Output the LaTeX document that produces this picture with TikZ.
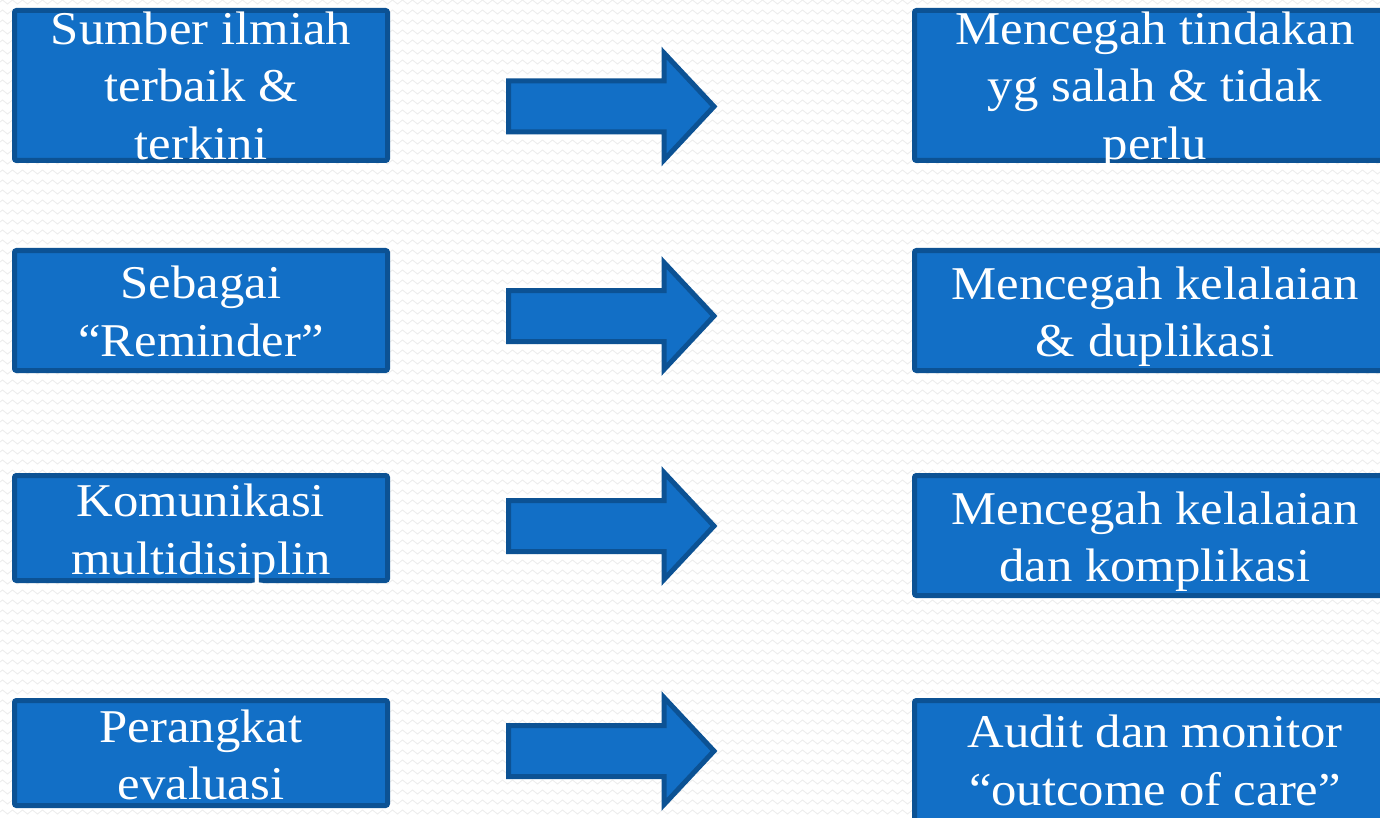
\documentclass[tikz,border=0pt]{standalone}
\usepackage{fontspec}
\setmainfont{Liberation Serif}[FakeStretch=1.08]
\usetikzlibrary{decorations.pathmorphing}
\definecolor{boxfill}{RGB}{18,111,198}
\definecolor{boxline}{RGB}{12,82,148}
\definecolor{bgline}{RGB}{238,238,238}
\tikzset{
  box/.style={draw=boxline, fill=boxfill, line width=5pt, rounded corners=2pt, inner sep=0pt},
  txt/.style={text=white, inner sep=0pt, anchor=base, font=\fontsize{47}{57.5}\selectfont},
  arrowstyle/.style={draw=boxline, fill=boxfill, line width=5pt, line join=miter},
  bgzz/.style={draw=bgline, line width=0.9pt, decorate, decoration={zigzag, segment length=10pt, amplitude=2pt}},
  blockarrow/.pic={
    \path[arrowstyle] (-103.5,-25.5) -- (52,-25.5) -- (52,-53.5) -- (102,0) -- (52,53.5) -- (52,25.5) -- (-103.5,25.5) -- cycle;
  }
}
\begin{document}
\begin{tikzpicture}[x=1pt,y=-1pt]
\useasboundingbox (0,0) rectangle (1380,818);
\clip (0,0) rectangle (1380,818);
\fill[white] (0,0) rectangle (1380,818);
\foreach \yy in {2,12,...,822} \draw[bgzz] (-10,\yy) -- (1390,\yy);

% left boxes
\node[box, minimum width=373pt, minimum height=150pt] (l1) at (201,85.5) {};
\node[box, minimum width=373pt, minimum height=120pt] (l2) at (201,310.5) {};
\node[box, minimum width=373pt, minimum height=105pt] (l3) at (201,528) {};
\node[box, minimum width=373pt, minimum height=105pt] (l4) at (201,753) {};
% right boxes
\node[box, minimum width=483pt, minimum height=150pt] (r1) at (1156,85.5) {};
\node[box, minimum width=483pt, minimum height=120pt] (r2) at (1156,310.5) {};
\node[box, minimum width=483pt, minimum height=120pt] (r3) at (1156,535.5) {};
\node[box, minimum width=483pt, minimum height=120pt] (r4) at (1156,760.5) {};

% arrows
\pic at (612,106.5) {blockarrow};
\pic at (612,316) {blockarrow};
\pic at (612,526) {blockarrow};
\pic at (612,751) {blockarrow};

% texts
\node[txt] (t1) at (201,44.5) {\begin{tabular}[t]{@{}c@{}}Sumber ilmiah\\ terbaik \&\\ terkini\end{tabular}};
\node[txt] (t2) at (201,298.5) {\begin{tabular}[t]{@{}c@{}}Sebagai\\ “Reminder”\end{tabular}};
\node[txt] (t3) at (201,516.5) {\begin{tabular}[t]{@{}c@{}}Komunikasi\\ multidisiplin\end{tabular}};
\node[txt] (t4) at (201,742) {\begin{tabular}[t]{@{}c@{}}Perangkat\\ evaluasi\end{tabular}};
\node[txt] (u1) at (1155,44.5) {\begin{tabular}[t]{@{}c@{}}Mencegah tindakan\\ yg salah \& tidak\\ perlu\end{tabular}};
\node[txt] (u2) at (1155,299) {\begin{tabular}[t]{@{}c@{}}Mencegah kelalaian\\ \& duplikasi\end{tabular}};
\node[txt] (u3) at (1155,524) {\begin{tabular}[t]{@{}c@{}}Mencegah kelalaian\\ dan komplikasi\end{tabular}};
\node[txt] (u4) at (1155,747.5) {\begin{tabular}[t]{@{}c@{}}Audit dan monitor\\ “outcome of care”\end{tabular}};
\end{tikzpicture}
\end{document}
